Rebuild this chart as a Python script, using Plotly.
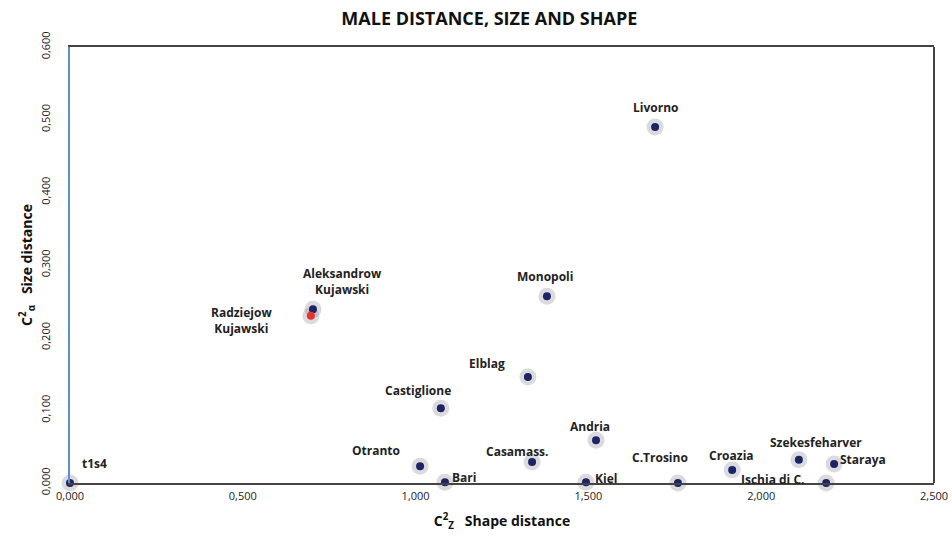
import plotly.graph_objects as go

# ---- data ----
names = ["t1s4", "Livorno", "Monopoli", "Aleksandrow<br>Kujawski", "Radziejow<br>Kujawski",
         "Elblag", "Castiglione", "Andria", "Otranto", "Casamass.", "Bari", "Kiel",
         "C.Trosino", "Croazia", "Szekesfeharver", "Staraya", "Ischia di C."]
shape_dist = [0.000, 1.693, 1.380, 0.703, 0.697, 1.325, 1.073, 1.522, 1.013, 1.337,
              1.085, 1.493, 1.759, 1.916, 2.109, 2.211, 2.188]
size_dist = [0.000, 0.490, 0.257, 0.239, 0.230, 0.146, 0.103, 0.059, 0.023, 0.029,
             0.001, 0.001, 0.000, 0.018, 0.032, 0.026, 0.000]
x_ticks = [0, 0.5, 1.0, 1.5, 2.0, 2.5]
y_ticks = [0, 0.1, 0.2, 0.3, 0.4, 0.5, 0.6]

# label placement (pixel offsets, anchors)
label_pos = {
    "t1s4": (24, 20, "center"),
    "Livorno": (0, 19, "center"),
    "Monopoli": (-2, 20, "center"),
    "Aleksandrow<br>Kujawski": (30, 28, "center"),
    "Radziejow<br>Kujawski": (-69, -5, "center"),
    "Elblag": (-41, 13, "center"),
    "Castiglione": (-23, 18, "center"),
    "Andria": (-6, 14, "center"),
    "Otranto": (-44, 16, "center"),
    "Casamass.": (-15, 10, "center"),
    "Bari": (19, 5, "center"),
    "Kiel": (20, 4, "center"),
    "C.Trosino": (-18, 26, "center"),
    "Croazia": (-1, 14, "center"),
    "Szekesfeharver": (17, 17, "center"),
    "Staraya": (29, 5, "center"),
    "Ischia di C.": (-54, 4, "center"),
}

navy = "#1d2463"
colors = [navy] * len(names)
colors[names.index("Radziejow<br>Kujawski")] = "#e8322b"

fig = go.Figure()
# halo
fig.add_trace(go.Scatter(x=shape_dist, y=size_dist, mode="markers",
                         marker=dict(size=17, color="rgba(140,140,155,0.32)", line=dict(width=0)),
                         cliponaxis=False, hoverinfo="skip", showlegend=False))
fig.add_trace(go.Scatter(x=shape_dist, y=size_dist, mode="markers",
                         marker=dict(size=8, color=colors, line=dict(width=0)),
                         cliponaxis=False, text=names, showlegend=False))

font_fam = "'Open Sans', Arial, sans-serif"
for n, x, y in zip(names, shape_dist, size_dist):
    dx, dy, al = label_pos[n]
    fig.add_annotation(x=x, y=y, xref="x", yref="y", text="<b>%s</b>" % n, showarrow=False,
                       xshift=dx, yshift=dy, align=al,
                       font=dict(family=font_fam, size=12, color="#222222"))

fig.update_layout(
    width=952, height=540,
    margin=dict(l=70, r=18, t=47, b=57),
    paper_bgcolor="white", plot_bgcolor="white",
    separators=",.",
    title=dict(text="<b>MALE DISTANCE, SIZE AND SHAPE</b>", x=0.514, xanchor="center",
               y=0.966, yanchor="middle",
               font=dict(family=font_fam, size=18, color="#111111")),
    xaxis=dict(range=[0, 2.5], tickvals=x_ticks, tickformat=".3f", showgrid=False, zeroline=False,
               showline=True, linecolor="#444444", linewidth=2, mirror=True, ticks="",
               automargin=False, ticklabelstandoff=2,
               tickfont=dict(family=font_fam, size=11, color="#222222"),
               title=dict(text="<b>C<sup>2</sup><sub>Z</sub>   Shape distance</b>", standoff=14,
                          font=dict(family=font_fam, size=14, color="#111111"))),
    yaxis=dict(range=[0, 0.6], tickvals=y_ticks, tickformat=".3f", showgrid=False, zeroline=False,
               showline=True, linecolor="#5b8fd0", linewidth=2, ticks="", tickangle=-90,
               automargin=False, ticklabelstandoff=14,
               tickfont=dict(family=font_fam, size=11, color="#222222"),
               title=dict(text="<b>C<sup>2</sup><sub>α</sub>   Size distance</b>", standoff=2,
                          font=dict(family=font_fam, size=14, color="#111111"))),
    shapes=[dict(type="line", xref="paper", yref="paper", x0=1, x1=1, y0=0, y1=1,
                 line=dict(color="#444444", width=2))],
)

fig.write_html("out.html", config={"displayModeBar": False},
               post_script="document.body.style.margin='0';")
